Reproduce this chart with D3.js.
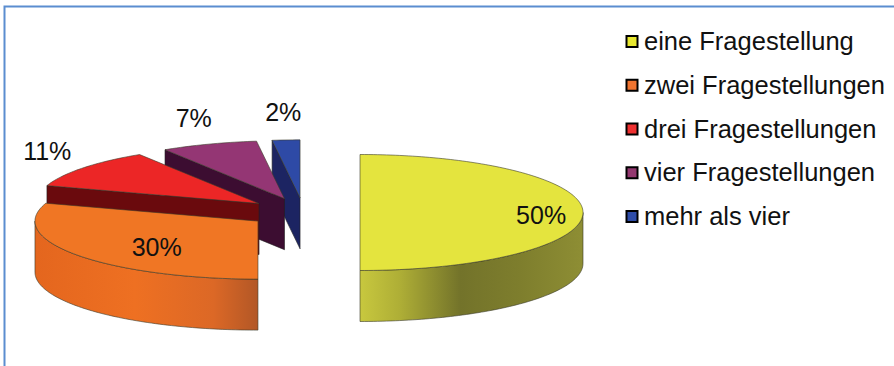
<!DOCTYPE html>
<html>
<head>
<meta charset="utf-8">
<script src="https://cdn.jsdelivr.net/npm/d3@7/dist/d3.min.js"></script>
<style>
  html, body { margin: 0; padding: 0; background: #fff; }
  svg { display: block; }
</style>
</head>
<body>
<script>
// ---- data ----
const categories = ["eine Fragestellung", "zwei Fragestellungen", "drei Fragestellungen", "vier Fragestellungen", "mehr als vier"];
const values = [50, 30, 11, 7, 2];
const valueLabels = ["50%", "30%", "11%", "7%", "2%"];

// ---- styles ----
const topColors  = ["#E4E43E", "#F07624", "#EC2626", "#943674", "#2E4AA6"];
const cutColors  = ["#8A8A2E", "#B85A26", "#6A0A0D", "#3C0D31", "#1C2462"];
const legendColors = ["#E8E830", "#F07430", "#EE3030", "#943870", "#2E4CA8"];
const sideStops = [
  [[0, "#C8C83E"], [0.18, "#AEAE36"], [0.45, "#73732A"], [0.72, "#7E7E2D"], [1, "#8E8E34"]],
  [[0, "#E4661E"], [0.45, "#EE7022"], [0.8, "#DC6826"], [1, "#B25726"]],
  [[0, "#8a1010"], [1, "#6a0a0a"]],
  [[0, "#5a1a48"], [1, "#3c0d31"]],
  [[0, "#2a3080"], [1, "#1c2462"]]
];
const FONT = "'Liberation Sans', Arial, sans-serif";

const W = 894, H = 366;
const svg = d3.select("body").append("svg").attr("width", W).attr("height", H);

// frame
svg.append("rect").attr("x", 4.5).attr("y", 6.5).attr("width", W + 20).attr("height", H + 20)
  .attr("fill", "#fff").attr("stroke", "#5B8DD0").attr("stroke-width", 2);

// ---- 3D pie geometry ----
const cx0 = 303.6, cy0 = 212.5, rx = 223, ry = 58, depth = 51, explode = 56.4;
const k = ry / rx;

const pie = d3.pie().sort(null).value(d => d)(values);

function pt(c, a, r = 1, dz = 0) {
  return [c[0] + rx * r * Math.sin(a), c[1] - ry * r * Math.cos(a) + dz];
}
function arcPts(c, a0, a1, dz = 0) {
  const n = Math.max(2, Math.ceil(Math.abs(a1 - a0) / 0.02));
  return d3.range(n + 1).map(i => pt(c, a0 + (a1 - a0) * i / n, 1, dz));
}
const line = d3.line().curve(d3.curveLinear);

const slices = pie.map((p, i) => {
  const mid = (p.startAngle + p.endAngle) / 2;
  const c = [cx0 + explode * Math.sin(mid), cy0 - explode * k * Math.cos(mid)];
  return { i, p, mid, c };
});

const defs = svg.append("defs");
slices.forEach(s => {
  const g = defs.append("linearGradient").attr("id", "side" + s.i)
    .attr("x1", 0).attr("y1", 0).attr("x2", 1).attr("y2", 0);
  sideStops[s.i].forEach(st => g.append("stop").attr("offset", st[0]).attr("stop-color", st[1]));
});

// draw back to front
const order = slices.slice().sort((a, b) => Math.cos(b.mid) - Math.cos(a.mid));
const gPie = svg.append("g");
const eps = 1e-6;
order.forEach(s => {
  const { p, c, i } = s;
  const a0 = p.startAngle, a1 = p.endAngle;
  const g = gPie.append("g");
  const ss = Math.max(a0, Math.PI / 2), ee = Math.min(a1, 3 * Math.PI / 2);
  if (ss < ee - eps) {
    const pts = arcPts(c, ss, ee).concat(arcPts(c, ee, ss, depth));
    g.append("path").attr("d", line(pts) + "Z").attr("fill", `url(#side${i})`)
      .attr("stroke", "#3a3a2a").attr("stroke-width", 0.6).attr("stroke-linejoin", "round");
  }
  const faces = [];
  if (Math.sin(a0) < -eps) faces.push(a0);
  if (Math.sin(a1) > eps) faces.push(a1);
  faces.forEach(a => {
    const o = pt(c, a), ob = pt(c, a, 1, depth);
    const pts = [c, o, ob, [c[0], c[1] + depth]];
    g.append("path").attr("d", line(pts) + "Z").attr("fill", cutColors[i])
      .attr("stroke", "#222").attr("stroke-width", 0.6).attr("stroke-linejoin", "round");
  });
  const topPts = [c].concat(arcPts(c, a0, a1));
  g.append("path").attr("d", line(topPts) + "Z").attr("fill", topColors[i])
    .attr("stroke", "#3a3a2a").attr("stroke-width", 0.6).attr("stroke-linejoin", "round");
});

// ---- data labels ----
slices.forEach(s => {
  const { p, c, mid, i } = s;
  const frac = (p.endAngle - p.startAngle) / (2 * Math.PI);
  let x, y, anchor;
  if (frac >= 0.2) {
    [x, y] = pt(c, mid, 0.7);
    y += 11.5;
    anchor = "start";
  } else {
    x = c[0] + (rx + 45) * Math.sin(mid);
    y = c[1] - (ry + 28) * Math.cos(mid) + 9;
    anchor = "middle";
  }
  svg.append("text").attr("x", x).attr("y", y).attr("text-anchor", anchor)
    .attr("font-family", FONT).attr("font-size", 25).attr("fill", "#111").text(valueLabels[i]);
});

// ---- legend ----
const ly = d3.scalePoint().domain(categories).range([41.5, 216.5]);
const lg = svg.append("g");
categories.forEach((cat, i) => {
  const y = ly(cat);
  lg.append("rect").attr("x", 626.5).attr("y", y - 5.5).attr("width", 11).attr("height", 11)
    .attr("fill", legendColors[i]).attr("stroke", "#000").attr("stroke-width", 2);
  lg.append("text").attr("x", 644).attr("y", y + 8.5)
    .attr("font-family", FONT).attr("font-size", 25.5).attr("fill", "#111").text(cat);
});
</script>
</body>
</html>
